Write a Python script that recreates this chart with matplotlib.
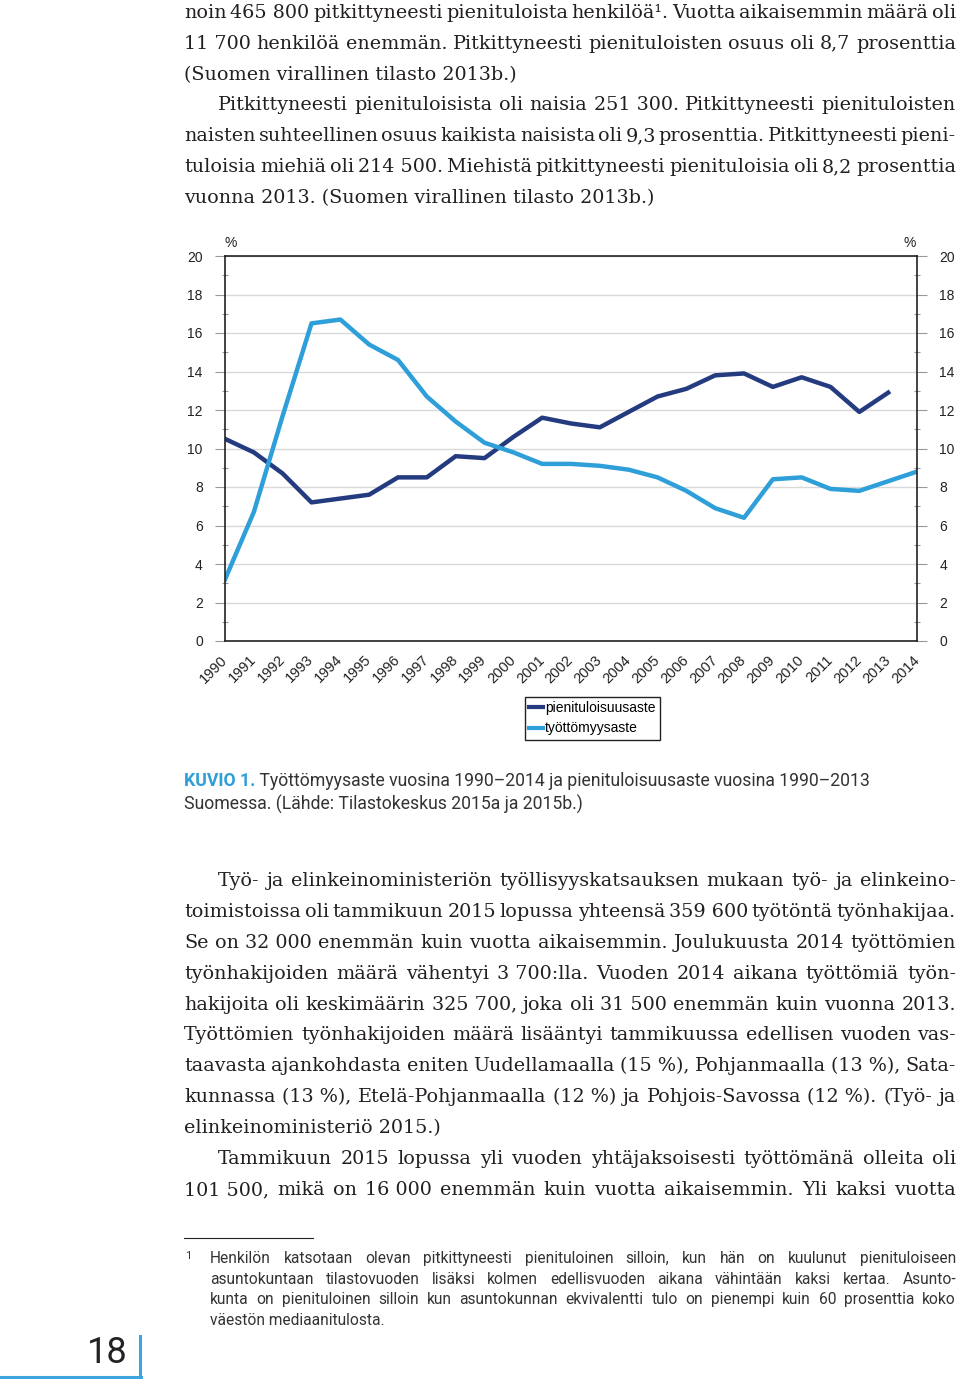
import matplotlib
matplotlib.use('Agg')
import matplotlib.pyplot as plt
from matplotlib.lines import Line2D

# --- chart data ---
years = list(range(1990, 2015))
pienituloisuus = [10.5, 9.8, 8.7, 7.2, 7.4, 7.6, 8.5, 8.5, 9.6, 9.5, 10.6, 11.6,
                  11.3, 11.1, 11.9, 12.7, 13.1, 13.8, 13.9, 13.2, 13.7, 13.2, 11.9, 12.9]
tyottomyys = [3.2, 6.7, 11.7, 16.5, 16.7, 15.4, 14.6, 12.7, 11.4, 10.3, 9.8, 9.2,
              9.2, 9.1, 8.9, 8.5, 7.8, 6.9, 6.4, 8.4, 8.5, 7.9, 7.8, 8.3, 8.8]
series_labels = ['pienituloisuusaste', 'työttömyysaste']
yticks = list(range(0, 21, 2))

# --- page text ---
NB = '\u00a0'
text_top = [
    ('noin 465' + NB + '800 pitkittyneesti pienituloista henkilöä¹. Vuotta aikaisemmin määrä oli', 0, True),
    ('11' + NB + '700 henkilöä enemmän. Pitkittyneesti pienituloisten osuus oli 8,7 prosenttia', 0, True),
    ('(Suomen virallinen tilasto 2013b.)', 0, False),
    ('Pitkittyneesti pienituloisista oli naisia 251' + NB + '300. Pitkittyneesti pienituloisten', 1, True),
    ('naisten suhteellinen osuus kaikista naisista oli 9,3 prosenttia. Pitkittyneesti pieni-', 0, True),
    ('tuloisia miehiä oli 214' + NB + '500. Miehistä pitkittyneesti pienituloisia oli 8,2 prosenttia', 0, True),
    ('vuonna 2013. (Suomen virallinen tilasto 2013b.)', 0, False),
]
text_bottom = [
    ('Työ- ja elinkeinoministeriön työllisyyskatsauksen mukaan työ- ja elinkeino-', 1, True),
    ('toimistoissa oli tammikuun 2015 lopussa yhteensä 359' + NB + '600 työtöntä työnhakijaa.', 0, True),
    ('Se on 32' + NB + '000 enemmän kuin vuotta aikaisemmin. Joulukuusta 2014 työttömien', 0, True),
    ('työnhakijoiden määrä vähentyi 3' + NB + '700:lla. Vuoden 2014 aikana työttömiä työn-', 0, True),
    ('hakijoita oli keskimäärin 325' + NB + '700, joka oli 31' + NB + '500 enemmän kuin vuonna 2013.', 0, True),
    ('Työttömien työnhakijoiden määrä lisääntyi tammikuussa edellisen vuoden vas-', 0, True),
    ('taavasta ajankohdasta eniten Uudellamaalla (15' + NB + '%), Pohjanmaalla (13' + NB + '%), Sata-', 0, True),
    ('kunnassa (13' + NB + '%), Etelä-Pohjanmaalla (12' + NB + '%) ja Pohjois-Savossa (12' + NB + '%). (Työ- ja', 0, True),
    ('elinkeinoministeriö 2015.)', 0, False),
    ('Tammikuun 2015 lopussa yli vuoden yhtäjaksoisesti työttömänä olleita oli', 1, True),
    ('101' + NB + '500, mikä on 16' + NB + '000 enemmän kuin vuotta aikaisemmin. Yli kaksi vuotta', 0, True),
]
footnote = [
    ('Henkilön katsotaan olevan pitkittyneesti pienituloinen silloin, kun hän on kuulunut pienituloiseen', True),
    ('asuntokuntaan tilastovuoden lisäksi kolmen edellisvuoden aikana vähintään kaksi kertaa. Asunto-', True),
    ('kunta on pienituloinen silloin kun asuntokunnan ekvivalentti tulo on pienempi kuin 60 prosenttia koko', True),
    ('väestön mediaanitulosta.', False),
]
caption_head = 'KUVIO 1.'
caption_lines = [' Työttömyysaste vuosina 1990–2014 ja pienituloisuusaste vuosina 1990–2013',
                 'Suomessa. (Lähde: Tilastokeskus 2015a ja 2015b.)']

W, H = 960, 1379
fig = plt.figure(figsize=(W / 100, H / 100), dpi=100)
rend = fig.canvas.get_renderer()

serif = ['DejaVu Serif']
narrow = ['Roboto', 'DejaVu Sans']
dark_blue = '#253b80'
light_blue = '#2e9fd8'
txt_col = '#231f20'


def fx(x):
    return x / W


def fy(y):
    return 1 - y / H


def put_line(s, x0, x1, y, size, family, justify, color=txt_col):
    if not justify:
        fig.text(fx(x0), fy(y), s, fontsize=size, family=family, color=color, va='baseline')
        return
    words = s.split(' ')
    arts = [fig.text(0, 0, w, fontsize=size, family=family, color=color, va='baseline') for w in words]
    widths = [a.get_window_extent(rend).width for a in arts]
    gap = (x1 - x0 - sum(widths)) / max(len(words) - 1, 1)
    x = x0
    for a, w in zip(arts, widths):
        a.set_position((fx(x), fy(y)))
        x += w + gap


# body text, top
y = 18
for s, indent, just in text_top:
    put_line(s, 184 + 34 * indent, 956, y, 13.8, serif, just)
    y += 30.8

# body text, bottom
y = 886
for s, indent, just in text_bottom:
    put_line(s, 184 + 34 * indent, 956, y, 13.8, serif, just)
    y += 30.9

# --- chart ---
ax = fig.add_axes([fx(225), fy(641), fx(917) - fx(225), fy(256) - fy(641)])
ax.plot(years[:len(pienituloisuus)], pienituloisuus, color=dark_blue, lw=3.2, label=series_labels[0])
ax.plot(years, tyottomyys, color=light_blue, lw=3.2, label=series_labels[1])
ax.set_xlim(1990, 2014)
ax.set_ylim(0, 20)
ax.set_yticks(yticks)
ax.set_yticks(range(1, 20, 2), minor=True)
ax.grid(axis='y', color='#d9d9d9', lw=1)
ax.set_axisbelow(True)
for sp in ax.spines.values():
    sp.set_color('#222222')
    sp.set_linewidth(1.2)
ax.tick_params(axis='y', which='major', direction='out', length=7, width=0.8, color='#999999',
               labelsize=10, pad=9, right=True, labelright=True, labelcolor='#222222')
ax.tick_params(axis='y', which='minor', direction='inout', length=5, width=0.8, color='#999999', right=True)
ax.set_xticks(years)
ax.set_xticklabels([str(v) for v in years], rotation=45, ha='right', va='center',
                   rotation_mode='anchor', fontsize=10.5, color='#222222')
ax.tick_params(axis='x', length=0, pad=12)
for lab in ax.get_xticklabels() + ax.get_yticklabels():
    lab.set_family('Liberation Sans')
fig.text(fx(231), fy(243), '%', fontsize=10, family='Liberation Sans', ha='center', va='center', color='#222222')
fig.text(fx(910), fy(243), '%', fontsize=10, family='Liberation Sans', ha='center', va='center', color='#222222')

handles = [Line2D([], [], color=dark_blue, lw=3), Line2D([], [], color=light_blue, lw=3)]
leg = ax.legend(handles, series_labels, loc='upper left', bbox_to_anchor=(fx(525), fy(697)),
                bbox_transform=fig.transFigure, prop={'family': 'Liberation Sans', 'size': 10},
                handlelength=1.0, handletextpad=0.15, labelspacing=0.45, borderpad=0.3,
                borderaxespad=0, fancybox=False, framealpha=1)
leg.get_frame().set_edgecolor('#222222')
leg.get_frame().set_linewidth(1.0)

# --- caption ---
for i, s in enumerate(caption_lines):
    yb = 786 + 24 * i
    x0 = 184
    if i == 0:
        head = fig.text(fx(x0), fy(yb), caption_head, fontsize=12.7, family=narrow, color=light_blue,
                        weight='bold', va='baseline')
        x0 += head.get_window_extent(rend).width
    fig.text(fx(x0), fy(yb), s, fontsize=12.7, family=narrow, color='#333333', va='baseline')

# --- footnote ---
fig.add_artist(Line2D([fx(184), fx(313)], [fy(1238), fy(1238)], color='#222222', lw=0.8))
fig.text(fx(185), fy(1259), '1', fontsize=8, family=narrow, color='#333333', va='baseline')
y = 1263
for s, just in footnote:
    put_line(s, 210, 956, y, 11.2, narrow, just, color='#333333')
    y += 20.7

# --- page number ---
fig.text(fx(128), fy(1363), '18', fontsize=26, family=narrow, color='#222222',
         ha='right', va='baseline')
fig.add_artist(Line2D([fx(140), fx(140)], [fy(1336), fy(1377)], color='#3aa6dd', lw=2.2))
fig.add_artist(Line2D([fx(0), fx(141)], [fy(1377), fy(1377)], color='#3aa6dd', lw=2.2))

fig.savefig('out.png', dpi=100, facecolor='white')
